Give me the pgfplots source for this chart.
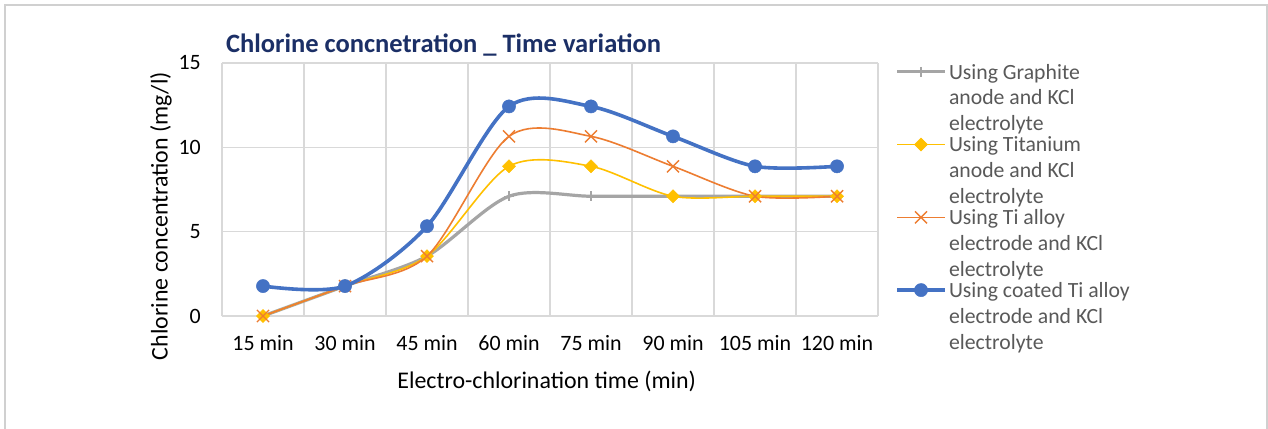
\documentclass[border=0pt]{standalone}
\usepackage{pgfplots}
\pgfplotsset{compat=1.18}
\usepackage{fontspec}
\setmainfont{Carlito}

\definecolor{cgray}{HTML}{A5A5A5}
\definecolor{cgold}{HTML}{FFC000}
\definecolor{corange}{HTML}{ED7D31}
\definecolor{cblue}{HTML}{4472C4}
\definecolor{gridc}{HTML}{D9D9D9}
\definecolor{framec}{HTML}{D0D0D0}
\definecolor{titlec}{HTML}{1B2F66}
\definecolor{legc}{HTML}{595959}

\begin{document}
\begin{tikzpicture}[x=1bp,y=1bp]
\path[use as bounding box] (0,0) rectangle (1268,428);
\fill[white] (0,0) rectangle (1268,428);
\draw[framec, line width=1.2bp] (5,-5) rectangle (1267,423);
\begin{axis}[
  at={(222bp,112bp)}, anchor=south west,
  scale only axis, width=656bp, height=253bp,
  xmin=-0.5, xmax=7.5, ymin=0, ymax=15,
  xtick={0,...,7},
  xticklabels={15 min,30 min,45 min,60 min,75 min,90 min,105 min,120 min},
  minor xtick={-0.5,0.5,...,7.5},
  ytick={0,5,10,15},
  xminorgrids=true, xmajorgrids=false, ymajorgrids=true,
  grid style={gridc, line width=1.3bp},
  minor grid style={gridc, line width=1.3bp},
  axis line style={draw=none},
  major tick length=0pt, minor tick length=0pt,
  tick style={draw=none},
  /pgf/number format/assume math mode=true,
  ticklabel style={font=\fontsize{22}{26}\selectfont, text=black, inner sep=0pt},
  xticklabel style={anchor=base, yshift=-34.5bp},
  yticklabel style={anchor=east, xshift=-21bp},
  xlabel={Electro-chlorination time (min)},
  ylabel={Chlorine concentration (mg/l)},
  every axis x label/.style={at={(axis description cs:0.495,-0.285)}, anchor=base,
    font=\fontsize{24}{28}\selectfont, text=black, inner sep=0pt},
  every axis y label/.style={at={(axis description cs:-0.083,0.395)}, rotate=90, anchor=base,
    font=\fontsize{24}{28}\selectfont, text=black, inner sep=0pt},
  title={Chlorine concnetration \_ Time variation},
  every axis title/.style={at={(axis description cs:0.006,1.043)}, anchor=base west,
    font=\bfseries\fontsize{26.6}{30}\selectfont, text=titlec, inner sep=0pt},
  legend image code/.code={
    \draw[#1, overlay, mark repeat=2, mark phase=2]
      plot coordinates {(0bp,59bp) (24bp,59bp) (48bp,59bp)};
    \path[draw=none, fill=none] (0bp,0bp) -- (48bp,0bp);
  },
  legend style={draw=none, fill=none, inner sep=0pt, outer sep=0pt,
    at={(axis description cs:1.029,0.996)}, anchor=north west,
    font=\fontsize{21.8}{26}\selectfont, text=legc,
    nodes={inner sep=0pt, align=left},
    cells={anchor=base west},
    column sep=4bp, row sep=4.4bp},
]
% graphite anode
\addplot[cgray, line width=3.2bp, smooth,
  mark=+, mark size=5bp, mark options={line width=1.4bp, solid}]
  coordinates {(0,0) (1,1.775) (2,3.55) (3,7.1) (4,7.1) (5,7.1) (6,7.1) (7,7.1)};
\addlegendentry{Using Graphite\\anode and KCl\\electrolyte}
% titanium anode
\addplot[cgold, line width=1.6bp, smooth,
  mark=square*, mark size=4.6bp, mark options={rotate=45, fill=cgold, draw=cgold, line width=0.5bp}]
  coordinates {(0,0) (1,1.775) (2,3.55) (3,8.875) (4,8.875) (5,7.1) (6,7.1) (7,7.1)};
\addlegendentry{Using Titanium\\anode and KCl\\electrolyte}
% Ti alloy electrode
\addplot[corange, line width=1.6bp, smooth,
  mark=x, mark size=8.5bp, mark options={line width=1.4bp}]
  coordinates {(0,0) (1,1.775) (2,3.55) (3,10.65) (4,10.65) (5,8.875) (6,7.1) (7,7.1)};
\addlegendentry{Using Ti alloy\\electrode and KCl\\electrolyte}
% coated Ti alloy electrode
\addplot[cblue, line width=3.6bp, smooth,
  mark=*, mark size=6.6bp, mark options={fill=cblue, draw=cblue, line width=0.5bp}]
  coordinates {(0,1.775) (1,1.775) (2,5.325) (3,12.425) (4,12.425) (5,10.65) (6,8.875) (7,8.875)};
\addlegendentry{Using coated Ti alloy\\electrode and KCl\\electrolyte}
\end{axis}
\end{tikzpicture}
\end{document}
